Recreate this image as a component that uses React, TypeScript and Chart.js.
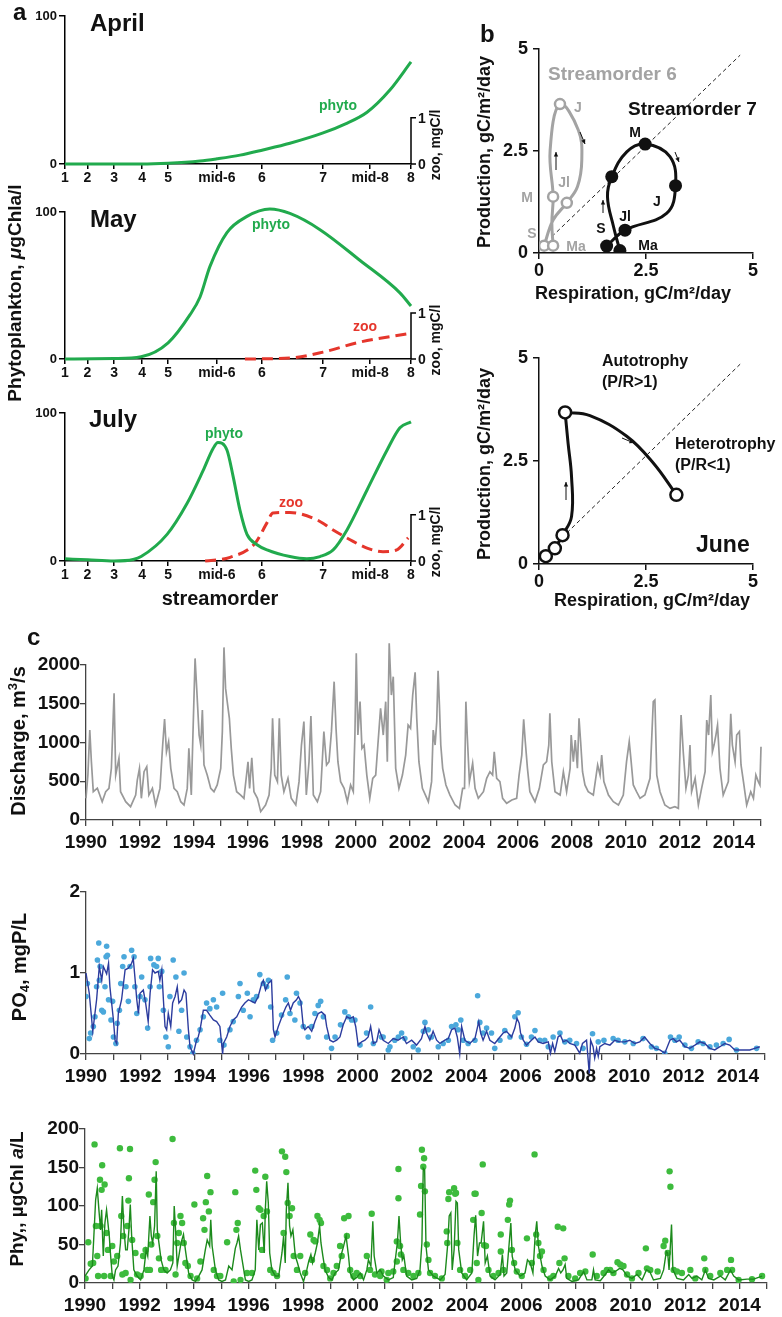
import React, { useEffect, useRef } from 'react';
import { Chart, registerables } from 'chart.js';
Chart.register(...registerables);

const W = 782;
const H = 1317;
const FONT = "'Liberation Sans', Arial, Helvetica, sans-serif";
Chart.defaults.font.family = FONT;

const GREEN = '#21aa4d';
const RED = '#e5362c';
const GRAYB = '#a3a3a3';

// ---------------- Panel a : streamorder profiles ----------------
const streamTickLabels = ['1', '2', '3', '4', '5', 'mid-6', '6', '7', 'mid-8', '8'];
const streamTickPos = [0, 6.5, 14.2, 22.3, 29.8, 43.9, 56.9, 74.6, 88.2, 100];

const aprilPhytoX = [0, 22.0, 29.8, 39.0, 43.9, 50.6, 57.2, 65.0, 74.6, 80.9, 87.3, 93.9, 100];
const aprilPhytoY = [0, 0, 0.5, 2, 3.5, 6, 9.5, 14, 21, 27, 35, 50, 69];

const mayPhytoX = [0, 14.2, 22.0, 29.8, 36.1, 39.0, 41.9, 46.8, 52.6, 59.2, 65.0, 73.7, 85.3, 96.8, 100];
const mayPhytoY = [0, 0.3, 1.5, 11, 30, 42, 63, 86, 97, 102, 99, 88, 67, 45, 36];
const mayZooX = [52.0, 65.0, 74.6, 85.3, 100];
const mayZooY = [0, 0.02, 0.15, 0.37, 0.56];

const julyPhytoX = [0, 6.6, 14.2, 19.7, 22.0, 29.5, 35.3, 39.9, 42.8, 44.2, 46.8, 48.6, 50.6, 52.6, 55.5, 58.4, 65.0, 69.9, 73.7, 77.5, 81.5, 87.3, 93.1, 96.8, 100];
const julyPhytoY = [1.5, 0.8, 0, 1, 3, 18, 39, 61, 76, 80, 75, 57, 34, 18, 11, 7.5, 3, 1.5, 3, 7.5, 21, 48, 75, 90, 94];
const julyZooX = [40.5, 47.7, 54.9, 58.4, 60.1, 65.0, 72.8, 77.5, 82.4, 87.3, 91.9, 95.9, 99.2];
const julyZooY = [0, 0.08, 0.38, 0.83, 1.04, 1.05, 0.89, 0.67, 0.46, 0.28, 0.2, 0.24, 0.5];

// ---------------- Panel b : production vs respiration ----------------
const diagX = [0.3, 4.7];
const diagY = [0.4, 4.85];

const so6PathX = [0.33, 0.30, 0.33, 0.26, 0.49, 0.92, 1.00, 0.90, 0.65, 0.33, 0.12];
const so6PathY = [0.18, 0.73, 1.38, 2.52, 3.65, 3.01, 2.28, 1.63, 1.23, 0.81, 0.18];
const so6MonthsX = [0.49, 0.65, 0.33, 0.12, 0.33];
const so6MonthsY = [3.65, 1.23, 1.38, 0.18, 0.18];

const so7PathX = [1.89, 1.74, 1.60, 1.70, 2.05, 2.48, 3.06, 3.19, 2.98, 2.01, 1.58];
const so7PathY = [0.06, 0.65, 1.38, 1.87, 2.48, 2.67, 2.36, 1.65, 0.97, 0.56, 0.17];
const so7MonthsX = [1.70, 2.48, 3.19, 2.01, 1.58, 1.89];
const so7MonthsY = [1.87, 2.67, 1.65, 0.56, 0.17, 0.06];

const juneRiseX = [0.16, 0.37, 0.55, 0.76, 0.76, 0.68, 0.61];
const juneRiseY = [0.19, 0.38, 0.70, 1.15, 2.12, 2.93, 3.68];
const juneFallX = [0.61, 1.19, 2.05, 2.67, 3.21];
const juneFallY = [3.68, 3.60, 3.10, 2.45, 1.68];
const juneStationsX = [0.16, 0.37, 0.55, 0.61, 3.21];
const juneStationsY = [0.19, 0.38, 0.70, 3.68, 1.68];

// ---------------- Panel c : time series ----------------
const dischargeSeries = [
  [1990.00,280],[1990.07,580],[1990.14,1160],[1990.20,750],[1990.27,365],[1990.42,410],[1990.60,236],[1990.73,365],[1990.85,408],[1990.94,667],
  [1991.04,1634],[1991.10,580],[1991.22,795],[1991.28,365],[1991.47,236],[1991.65,172],[1991.84,322],[1991.90,516],[1991.98,667],[1992.05,280],
  [1992.15,623],[1992.25,688],[1992.33,322],[1992.46,408],[1992.58,193],[1992.74,408],[1992.84,967],[1992.91,1303],[1992.98,881],[1993.06,1010],
  [1993.14,667],[1993.26,408],[1993.38,365],[1993.51,236],[1993.63,193],[1993.75,408],[1993.81,924],[1993.90,322],[1993.96,1096],[1994.04,2085],
  [1994.10,1698],[1994.19,1096],[1994.25,967],[1994.31,1419],[1994.37,710],[1994.49,580],[1994.62,408],[1994.74,365],[1994.86,452],[1994.99,667],
  [1995.05,1140],[1995.11,2227],[1995.17,1698],[1995.23,1527],[1995.31,1312],[1995.38,924],[1995.46,580],[1995.58,365],[1995.73,322],[1995.85,280],
  [1996.00,752],[1996.06,408],[1996.14,804],[1996.22,365],[1996.35,280],[1996.47,108],[1996.65,193],[1996.78,322],[1996.86,667],[1996.91,1312],
  [1996.99,580],[1997.09,495],[1997.16,1312],[1997.23,580],[1997.33,365],[1997.48,538],[1997.60,280],[1997.77,193],[1997.89,495],[1997.98,967],
  [1998.07,1269],[1998.16,322],[1998.26,752],[1998.33,1342],[1998.42,322],[1998.57,236],[1998.69,365],[1998.81,1140],[1998.91,710],[1999.00,752],
  [1999.09,1140],[1999.19,1785],[1999.26,1183],[1999.33,752],[1999.43,495],[1999.56,408],[1999.68,236],[1999.80,452],[1999.90,365],[1999.96,1096],
  [2000.01,2150],[2000.07,1096],[2000.15,1527],[2000.22,924],[2000.30,967],[2000.40,580],[2000.51,280],[2000.62,538],[2000.73,580],[2000.81,967],
  [2000.91,1440],[2001.01,1096],[2001.10,1527],[2001.16,752],[2001.23,2279],[2001.31,1612],[2001.38,1849],[2001.47,667],[2001.59,408],[2001.72,580],
  [2001.84,838],[2001.93,1225],[2002.02,1183],[2002.10,1612],[2002.19,1905],[2002.25,1312],[2002.33,752],[2002.46,408],[2002.68,236],[2002.80,495],
  [2002.86,1161],[2002.93,967],[2002.99,1269],[2003.04,1926],[2003.09,1484],[2003.14,967],[2003.21,667],[2003.33,452],[2003.48,322],[2003.67,193],
  [2003.83,150],[2003.95,408],[2004.02,408],[2004.07,1527],[2004.12,1096],[2004.20,495],[2004.32,731],[2004.41,408],[2004.53,280],[2004.72,365],
  [2004.84,538],[2004.96,623],[2005.06,580],[2005.12,881],[2005.21,538],[2005.33,495],[2005.43,280],[2005.58,215],[2005.77,258],[2005.95,280],
  [2006.04,580],[2006.14,838],[2006.21,1299],[2006.27,1010],[2006.35,667],[2006.44,365],[2006.63,236],[2006.79,408],[2006.94,710],[2007.06,752],
  [2007.14,967],[2007.18,1376],[2007.25,752],[2007.37,365],[2007.56,322],[2007.68,623],[2007.80,365],[2007.93,667],[2007.97,1096],[2008.05,752],
  [2008.12,1032],[2008.20,667],[2008.26,1312],[2008.32,1010],[2008.39,623],[2008.48,452],[2008.60,365],[2008.79,322],[2008.95,710],[2009.04,580],
  [2009.10,838],[2009.18,495],[2009.35,322],[2009.53,236],[2009.72,193],[2009.90,322],[2010.02,752],[2010.12,1010],[2010.18,795],[2010.27,452],
  [2010.39,365],[2010.52,280],[2010.70,322],[2010.89,538],[2011.01,1527],[2011.07,1548],[2011.14,580],[2011.26,365],[2011.44,193],[2011.63,150],
  [2011.81,172],[2011.94,150],[2011.98,667],[2012.04,1355],[2012.12,881],[2012.22,408],[2012.31,580],[2012.37,967],[2012.43,365],[2012.56,538],
  [2012.68,193],[2012.80,408],[2012.93,623],[2012.99,1290],[2013.06,1096],[2013.14,1612],[2013.20,881],[2013.26,967],[2013.33,1096],[2013.39,1225],
  [2013.48,667],[2013.60,322],[2013.79,495],[2013.88,1372],[2013.94,967],[2014.04,752],[2014.10,1096],[2014.20,1140],[2014.26,710],[2014.35,495],
  [2014.47,193],[2014.62,365],[2014.72,280],[2014.81,580],[2014.90,495],[2014.96,452],[2015.00,946],
];

const po4Line = [
  [1990.00,1.0],[1990.12,0.75],[1990.25,0.28],[1990.39,0.67],[1990.49,1.08],[1990.58,0.91],[1990.64,1.08],[1990.76,0.99],[1990.83,1.12],[1990.88,0.83],
  [1991.01,0.42],[1991.07,0.17],[1991.13,0.13],[1991.19,0.5],[1991.31,0.67],[1991.44,1.04],[1991.56,1.06],[1991.68,1.12],[1991.74,1.18],[1991.80,0.95],
  [1991.87,0.67],[1991.93,0.5],[1991.99,0.75],[1992.11,0.79],[1992.20,0.62],[1992.29,0.4],[1992.36,0.75],[1992.45,1.04],[1992.54,1.0],[1992.66,1.02],
  [1992.72,0.91],[1992.79,1.04],[1992.85,0.67],[1992.91,0.34],[1992.97,0.30],[1993.03,0.5],[1993.12,0.34],[1993.19,0.63],[1993.28,0.71],[1993.36,0.83],
  [1993.42,0.63],[1993.52,0.67],[1993.61,0.79],[1993.68,0.75],[1993.77,0.30],[1993.83,0.09],[1993.95,0.0],[1994.07,0.17],[1994.13,0.21],[1994.20,0.30],
  [1994.32,0.54],[1994.44,0.54],[1994.56,0.48],[1994.69,0.42],[1994.81,0.40],[1994.93,0.34],[1995.03,0.0],[1995.06,0.13],[1995.18,0.21],[1995.30,0.34],
  [1995.42,0.42],[1995.55,0.46],[1995.61,0.50],[1995.73,0.58],[1995.85,0.63],[1995.98,0.67],[1996.10,0.65],[1996.22,0.63],[1996.34,0.71],[1996.47,0.87],
  [1996.53,0.91],[1996.61,0.79],[1996.71,0.87],[1996.83,0.91],[1996.90,0.30],[1996.96,0.21],[1997.08,0.34],[1997.17,0.42],[1997.26,0.50],[1997.36,0.58],
  [1997.45,0.63],[1997.53,0.54],[1997.63,0.63],[1997.75,0.67],[1997.82,0.71],[1997.91,0.65],[1998.00,0.34],[1998.06,0.30],[1998.18,0.34],[1998.31,0.28],
  [1998.43,0.40],[1998.55,0.50],[1998.67,0.52],[1998.80,0.48],[1998.86,0.34],[1998.98,0.17],[1999.10,0.15],[1999.23,0.17],[1999.35,0.21],[1999.47,0.36],
  [1999.60,0.46],[1999.72,0.44],[1999.84,0.46],[1999.93,0.34],[2000.02,0.11],[2000.15,0.15],[2000.27,0.17],[2000.39,0.21],[2000.48,0.34],[2000.58,0.13],
  [2000.70,0.15],[2000.79,0.30],[2000.94,0.17],[2001.13,0.13],[2001.31,0.19],[2001.49,0.17],[2001.68,0.21],[2001.80,0.13],[2001.99,0.17],[2002.17,0.11],
  [2002.35,0.19],[2002.48,0.34],[2002.54,0.26],[2002.66,0.17],[2002.78,0.28],[2002.91,0.17],[2003.03,0.13],[2003.21,0.17],[2003.34,0.19],[2003.46,0.30],
  [2003.58,0.32],[2003.67,0.21],[2003.76,0.0],[2003.83,0.34],[2003.95,0.17],[2004.13,0.13],[2004.32,0.19],[2004.46,0.40],[2004.53,0.26],[2004.62,0.17],
  [2004.75,0.28],[2004.87,0.17],[2005.05,0.13],[2005.24,0.21],[2005.36,0.26],[2005.48,0.28],[2005.67,0.21],[2005.79,0.32],[2005.87,0.44],[2005.95,0.38],
  [2006.00,0.26],[2006.10,0.17],[2006.22,0.11],[2006.40,0.17],[2006.53,0.21],[2006.65,0.15],[2006.83,0.13],[2007.02,0.15],[2007.10,0.01],[2007.18,0.13],
  [2007.26,0.03],[2007.38,0.21],[2007.47,0.23],[2007.57,0.15],[2007.69,0.17],[2007.81,0.13],[2008.00,0.11],[2008.18,0.01],[2008.28,0.13],[2008.43,0.17],
  [2008.53,-0.24],[2008.58,0.17],[2008.67,0.09],[2008.73,-0.05],[2008.80,0.07],[2008.86,-0.03],[2008.92,0.09],[2009.10,0.13],[2009.29,0.11],[2009.47,0.17],
  [2009.65,0.15],[2009.84,0.15],[2010.02,0.17],[2010.21,0.13],[2010.39,0.15],[2010.57,0.21],[2010.76,0.13],[2010.94,0.07],[2011.13,0.05],[2011.31,0.01],
  [2011.50,0.17],[2011.62,0.19],[2011.74,0.15],[2011.86,0.17],[2012.05,0.09],[2012.23,0.07],[2012.42,0.11],[2012.60,0.15],[2012.78,0.13],[2012.97,0.07],
  [2013.15,0.05],[2013.34,0.09],[2013.52,0.13],[2013.70,0.11],[2013.89,0.05],[2014.07,0.05],[2014.44,0.05],[2014.62,0.07],[2014.81,0.09],
];

const po4Samples = [
  [1990.00,0.71],[1990.05,0.87],[1990.12,0.19],[1990.17,0.26],[1990.27,0.34],[1990.33,0.46],[1990.39,0.83],[1990.42,1.16],[1990.47,1.37],[1990.49,0.91],
  [1990.52,1.08],[1990.58,0.54],[1990.64,0.52],[1990.70,0.83],[1990.74,1.20],[1990.76,1.33],[1990.79,1.22],[1990.83,0.67],[1990.92,0.42],[1990.98,0.65],
  [1991.01,0.21],[1991.10,0.13],[1991.15,0.38],[1991.23,0.54],[1991.28,0.87],[1991.35,1.08],[1991.40,1.20],[1991.47,0.83],[1991.56,0.65],[1991.62,1.08],
  [1991.68,1.28],[1991.77,1.20],[1991.80,0.83],[1991.87,0.50],[1991.99,0.71],[1992.05,0.95],[1992.17,0.67],[1992.27,0.32],[1992.36,0.83],[1992.38,1.18],
  [1992.50,1.10],[1992.60,1.08],[1992.66,1.18],[1992.70,0.83],[1992.79,1.02],[1992.85,0.54],[1992.94,0.21],[1993.03,0.09],[1993.09,0.71],[1993.21,1.16],
  [1993.31,0.95],[1993.42,0.28],[1993.52,0.54],[1993.61,1.00],[1993.71,0.21],[1993.83,0.09],[1993.93,0.01],[1994.07,0.17],[1994.20,0.30],[1994.32,0.46],
  [1994.44,0.63],[1994.56,0.56],[1994.69,0.67],[1994.81,0.58],[1994.93,0.17],[1995.03,0.75],[1995.08,0.11],[1995.30,0.30],[1995.42,0.40],[1995.61,0.71],
  [1995.67,0.87],[1995.79,0.54],[1995.94,0.75],[1996.04,0.46],[1996.16,0.67],[1996.28,0.71],[1996.40,0.98],[1996.53,0.87],[1996.65,0.83],[1996.72,0.91],
  [1996.80,0.58],[1996.87,0.17],[1997.02,0.26],[1997.20,0.48],[1997.35,0.67],[1997.41,0.95],[1997.51,0.50],[1997.69,0.42],[1997.75,0.75],[1997.88,0.63],
  [1998.00,0.34],[1998.18,0.21],[1998.31,0.34],[1998.43,0.50],[1998.55,0.60],[1998.64,0.65],[1998.74,0.46],[1998.86,0.21],[1999.04,0.07],[1999.17,0.21],
  [1999.37,0.36],[1999.53,0.52],[1999.66,0.46],[1999.78,0.42],[1999.90,0.42],[2000.09,0.11],[2000.33,0.26],[2000.48,0.58],[2000.58,0.13],[2000.88,0.21],
  [2000.94,0.21],[2001.13,0.05],[2001.19,0.09],[2001.37,0.17],[2001.50,0.21],[2001.62,0.26],[2001.74,0.19],[2002.05,0.09],[2002.23,0.05],[2002.42,0.28],
  [2002.48,0.39],[2002.60,0.30],[2002.72,0.21],[2002.97,0.09],[2003.15,0.13],[2003.34,0.17],[2003.46,0.34],[2003.62,0.36],[2003.70,0.30],[2003.80,0.42],
  [2003.89,0.17],[2004.07,0.13],[2004.32,0.17],[2004.42,0.72],[2004.50,0.39],[2004.62,0.26],[2004.75,0.32],[2004.93,0.26],[2005.05,0.07],[2005.24,0.17],
  [2005.42,0.29],[2005.61,0.21],[2005.79,0.46],[2005.91,0.51],[2006.03,0.21],[2006.22,0.12],[2006.40,0.21],[2006.53,0.29],[2006.71,0.17],[2006.89,0.17],
  [2007.02,0.09],[2007.20,0.21],[2007.45,0.26],[2007.63,0.15],[2007.81,0.17],[2008.06,0.13],[2008.30,0.07],[2008.65,0.25],[2008.86,0.15],[2009.07,0.17],
  [2009.41,0.19],[2009.59,0.17],[2009.84,0.15],[2010.15,0.13],[2010.51,0.19],[2010.82,0.09],[2011.00,0.07],[2011.31,0.01],[2011.52,0.21],[2011.68,0.17],
  [2011.84,0.21],[2012.05,0.11],[2012.29,0.07],[2012.54,0.15],[2012.72,0.13],[2012.97,0.09],[2013.21,0.11],[2013.46,0.13],[2013.68,0.18],[2013.95,0.05],
  [2014.69,0.07],
];

const phyLine = [
  [1990.00,9],[1990.15,17],[1990.27,22],[1990.33,65],[1990.39,108],[1990.45,123],[1990.51,95],[1990.57,69],[1990.61,95],[1990.67,35],
  [1990.73,78],[1990.79,95],[1990.84,78],[1990.89,61],[1990.94,35],[1991.00,9],[1991.06,4],[1991.12,17],[1991.21,22],[1991.30,52],
  [1991.37,113],[1991.43,69],[1991.49,43],[1991.55,43],[1991.61,69],[1991.66,102],[1991.71,61],[1991.79,17],[1991.91,9],[1992.04,4],
  [1992.16,17],[1992.24,43],[1992.30,35],[1992.38,87],[1992.43,61],[1992.48,52],[1992.55,74],[1992.61,145],[1992.65,69],[1992.71,52],
  [1992.79,30],[1992.89,17],[1993.01,13],[1993.13,17],[1993.22,26],[1993.27,100],[1993.32,69],[1993.38,22],[1993.44,35],[1993.52,52],
  [1993.61,63],[1993.68,43],[1993.80,13],[1993.93,4],[1994.05,2],[1994.17,9],[1994.29,17],[1994.41,43],[1994.48,56],[1994.57,48],
  [1994.61,82],[1994.66,48],[1994.78,17],[1994.90,4],[1995.02,2],[1995.15,4],[1995.27,22],[1995.39,17],[1995.51,45],[1995.57,52],
  [1995.63,61],[1995.70,43],[1995.76,30],[1995.88,4],[1996.00,2],[1996.12,4],[1996.24,17],[1996.30,82],[1996.37,43],[1996.43,76],
  [1996.50,78],[1996.57,39],[1996.61,95],[1996.66,132],[1996.72,104],[1996.77,39],[1996.85,17],[1996.98,9],[1997.10,9],[1997.22,39],
  [1997.28,61],[1997.34,26],[1997.38,95],[1997.44,130],[1997.50,74],[1997.55,61],[1997.62,69],[1997.71,35],[1997.79,26],[1997.89,13],
  [1998.01,2],[1998.13,17],[1998.20,28],[1998.28,37],[1998.34,26],[1998.44,39],[1998.52,52],[1998.60,74],[1998.65,52],[1998.72,35],
  [1998.80,17],[1998.93,7],[1999.05,4],[1999.17,13],[1999.29,17],[1999.38,35],[1999.48,48],[1999.57,61],[1999.66,35],[1999.72,13],
  [1999.84,4],[1999.96,7],[2000.09,13],[2000.21,4],[2000.33,17],[2000.39,30],[2000.48,22],[2000.55,80],[2000.60,35],[2000.70,13],
  [2000.82,17],[2000.94,9],[2001.12,4],[2001.30,7],[2001.36,26],[2001.45,52],[2001.51,87],[2001.57,52],[2001.63,30],[2001.69,35],
  [2001.79,9],[2001.98,4],[2002.16,6],[2002.28,17],[2002.35,52],[2002.40,149],[2002.45,147],[2002.50,48],[2002.59,17],[2002.77,9],
  [2003.02,4],[2003.20,11],[2003.30,52],[2003.35,87],[2003.41,91],[2003.46,17],[2003.53,43],[2003.60,106],[2003.65,104],[2003.70,43],
  [2003.81,13],[2003.99,4],[2004.18,13],[2004.26,61],[2004.32,88],[2004.39,35],[2004.46,52],[2004.52,52],[2004.61,80],[2004.67,26],
  [2004.75,35],[2004.85,9],[2005.03,4],[2005.22,11],[2005.30,37],[2005.36,9],[2005.46,13],[2005.55,52],[2005.61,78],[2005.66,35],
  [2005.77,17],[2005.95,9],[2006.13,13],[2006.22,30],[2006.32,26],[2006.42,13],[2006.50,61],[2006.56,80],[2006.62,48],[2006.75,22],
  [2006.87,9],[2007.05,4],[2007.24,9],[2007.36,19],[2007.44,13],[2007.52,17],[2007.60,24],[2007.66,6],[2007.85,2],[2008.09,4],
  [2008.28,15],[2008.40,4],[2008.58,4],[2008.64,17],[2008.70,4],[2008.89,3],[2009.07,11],[2009.19,17],[2009.32,13],[2009.44,15],
  [2009.60,19],[2009.72,17],[2009.87,9],[2010.05,6],[2010.23,11],[2010.42,4],[2010.58,17],[2010.70,15],[2010.84,4],[2011.09,6],
  [2011.21,17],[2011.31,41],[2011.36,39],[2011.41,17],[2011.46,50],[2011.50,76],[2011.55,17],[2011.70,6],[2011.94,4],[2012.13,11],
  [2012.25,6],[2012.43,9],[2012.61,4],[2012.74,17],[2012.86,6],[2013.05,4],[2013.29,9],[2013.47,4],[2013.66,17],[2013.78,9],
  [2013.96,4],[2014.27,5],[2014.51,5],[2014.82,9],
];

const phySamples = [
  [1990.02,6],[1990.12,53],[1990.21,25],[1990.30,26],[1990.35,180],[1990.40,74],[1990.45,35],[1990.48,9],[1990.55,134],[1990.57,74],
  [1990.61,121],[1990.63,153],[1990.70,9],[1990.72,128],[1990.79,65],[1990.84,43],[1990.94,9],[1991.00,48],[1991.06,28],[1991.18,35],
  [1991.28,175],[1991.33,87],[1991.37,11],[1991.40,61],[1991.49,13],[1991.55,74],[1991.59,107],[1991.61,136],[1991.65,174],[1991.67,4],
  [1991.73,56],[1991.85,39],[1991.91,11],[1992.04,9],[1992.13,35],[1992.22,43],[1992.28,17],[1992.34,115],[1992.38,17],[1992.43,50],
  [1992.50,105],[1992.55,134],[1992.59,157],[1992.65,61],[1992.71,32],[1992.79,17],[1992.95,17],[1993.13,32],[1993.21,187],[1993.26,78],
  [1993.32,11],[1993.38,52],[1993.44,65],[1993.50,87],[1993.56,78],[1993.62,52],[1993.68,26],[1993.77,22],[1993.87,9],[1994.01,102],
  [1994.11,6],[1994.23,28],[1994.33,84],[1994.38,69],[1994.43,105],[1994.48,139],[1994.54,93],[1994.60,118],[1994.72,17],[1994.84,9],
  [1994.96,9],[1995.21,53],[1995.45,2],[1995.51,118],[1995.55,69],[1995.60,78],[1995.70,4],[1995.94,13],[1996.12,13],[1996.24,146],
  [1996.28,121],[1996.37,97],[1996.43,95],[1996.49,43],[1996.55,87],[1996.61,138],[1996.67,93],[1996.79,17],[1996.91,13],[1997.04,9],
  [1997.22,171],[1997.28,65],[1997.34,164],[1997.38,144],[1997.43,104],[1997.50,87],[1997.59,97],[1997.65,35],[1997.77,17],[1997.89,35],
  [1998.07,13],[1998.26,63],[1998.32,30],[1998.38,56],[1998.44,54],[1998.52,87],[1998.60,82],[1998.65,78],[1998.74,22],[1998.87,17],
  [1998.99,6],[1999.11,13],[1999.23,22],[1999.35,48],[1999.41,35],[1999.50,84],[1999.60,61],[1999.66,87],[1999.72,17],[1999.84,9],
  [1999.96,13],[2000.09,9],[2000.33,35],[2000.45,17],[2000.51,90],[2000.63,11],[2000.82,9],[2000.87,15],[2001.06,4],[2001.12,13],
  [2001.30,15],[2001.43,28],[2001.43,54],[2001.49,110],[2001.49,148],[2001.55,48],[2001.58,37],[2001.67,17],[2001.85,13],[2002.04,9],
  [2002.22,13],[2002.28,89],[2002.32,126],[2002.35,173],[2002.40,151],[2002.43,162],[2002.46,119],[2002.53,50],[2002.59,30],[2002.65,13],
  [2002.83,9],[2003.08,6],[2003.26,67],[2003.28,52],[2003.32,109],[2003.35,118],[2003.53,123],[2003.57,116],[2003.60,117],[2003.65,52],
  [2003.75,17],[2003.93,9],[2004.12,17],[2004.23,82],[2004.28,116],[2004.32,116],[2004.36,26],[2004.42,4],[2004.54,91],[2004.58,154],
  [2004.63,49],[2004.70,48],[2004.79,17],[2004.97,9],[2005.16,13],[2005.24,63],[2005.24,41],[2005.34,17],[2005.50,82],[2005.55,102],
  [2005.58,107],[2005.65,43],[2005.73,26],[2005.83,15],[2006.01,9],[2006.20,58],[2006.38,26],[2006.48,167],[2006.54,63],[2006.62,52],
  [2006.68,35],[2006.75,41],[2006.81,17],[2007.05,6],[2007.17,9],[2007.33,73],[2007.39,26],[2007.53,71],[2007.58,32],[2007.72,9],
  [2007.97,6],[2008.15,13],[2008.34,15],[2008.61,37],[2008.76,9],[2009.01,13],[2009.13,17],[2009.25,17],[2009.37,13],[2009.52,27],
  [2009.62,24],[2009.74,22],[2009.87,11],[2010.05,6],[2010.29,13],[2010.56,45],[2010.60,19],[2010.72,17],[2010.99,15],[2011.21,48],
  [2011.27,55],[2011.36,39],[2011.43,145],[2011.46,125],[2011.58,17],[2011.70,15],[2011.88,13],[2012.19,17],[2012.37,6],[2012.70,32],
  [2012.74,17],[2012.92,9],[2013.29,13],[2013.54,17],[2013.68,30],[2013.72,17],[2013.96,4],[2014.45,5],[2014.82,9],
];

const yearTicks = Array.from({ length: 26 }, (_, i) => 1990 + i);

// ---------------- helpers ----------------
type Area = { l: number; t: number; r: number; b: number };
const pts = (xs: number[], ys: number[]) => xs.map((x, i) => ({ x, y: ys[i] }));
const tup = (arr: number[][]) => arr.map(([x, y]) => ({ x, y }));

function fontStr(size: number, weight = 'bold', style = 'normal') {
  return `${style} ${weight} ${size}px ${FONT}`;
}
function text(ctx: any, s: string, x: number, y: number, size: number, o: any = {}) {
  ctx.save();
  ctx.font = fontStr(size, o.weight || 'bold', o.style || 'normal');
  ctx.fillStyle = o.color || '#111';
  ctx.textAlign = o.align || 'left';
  ctx.textBaseline = o.baseline || 'alphabetic';
  ctx.fillText(s, x, y);
  ctx.restore();
}
// rotated -90deg rich text centred on (cx, cy)
function vrich(ctx: any, segs: any[], cx: number, cy: number, color = '#111') {
  ctx.save();
  ctx.translate(cx, cy);
  ctx.rotate(-Math.PI / 2);
  let total = 0;
  const widths = segs.map((s) => {
    ctx.font = fontStr(s.size, 'bold', s.italic ? 'italic' : 'normal');
    const w = ctx.measureText(s.t).width;
    total += w;
    return w;
  });
  let x = -total / 2;
  ctx.fillStyle = color;
  ctx.textAlign = 'left';
  ctx.textBaseline = 'middle';
  segs.forEach((s, i) => {
    ctx.font = fontStr(s.size, 'bold', s.italic ? 'italic' : 'normal');
    ctx.fillText(s.t, x, s.dy || 0);
    x += widths[i];
  });
  ctx.restore();
}
function arrow(ctx: any, x1: number, y1: number, x2: number, y2: number) {
  ctx.save();
  ctx.strokeStyle = '#111';
  ctx.fillStyle = '#111';
  ctx.lineWidth = 1;
  ctx.beginPath();
  ctx.moveTo(x1, y1);
  ctx.lineTo(x2, y2);
  ctx.stroke();
  const a = Math.atan2(y2 - y1, x2 - x1);
  const L = 5;
  ctx.beginPath();
  ctx.moveTo(x2, y2);
  ctx.lineTo(x2 - L * Math.cos(a - 0.45), y2 - L * Math.sin(a - 0.45));
  ctx.lineTo(x2 - L * Math.cos(a + 0.45), y2 - L * Math.sin(a + 0.45));
  ctx.closePath();
  ctx.fill();
  ctx.restore();
}

const common = {
  responsive: false,
  animation: false,
  devicePixelRatio: 1,
  events: [],
  plugins: { legend: { display: false }, tooltip: { enabled: false } },
};

function layoutFor(a: Area, xH: number) {
  return { padding: { left: 0, top: a.t, right: W - a.r, bottom: H - a.b - xH } };
}
function axisLook(color: string, width: number, tickLength: number) {
  return {
    grid: { display: true, drawOnChartArea: false, drawTicks: true, tickLength, color, lineWidth: width },
    border: { display: true, color, width },
  };
}

// ---------------- Panel a config ----------------
function zooAxis(chart: any) {
  const ctx = chart.ctx;
  const y2 = chart.scales.y2;
  const x = chart.chartArea.right;
  const p0 = y2.getPixelForValue(0);
  const p1 = y2.getPixelForValue(1);
  ctx.save();
  ctx.strokeStyle = '#000';
  ctx.lineWidth = 1.5;
  ctx.beginPath();
  ctx.moveTo(x, p0);
  ctx.lineTo(x, p1);
  ctx.lineTo(x + 5, p1);
  ctx.moveTo(x, p0);
  ctx.lineTo(x + 5, p0);
  ctx.stroke();
  ctx.restore();
  text(ctx, '1', x + 7, p1 + 1, 14, { baseline: 'middle' });
  text(ctx, '0', x + 7, p0 + 1, 14, { baseline: 'middle' });
  vrich(ctx, [{ t: 'zoo, mgC/l', size: 14 }], 436, (p0 + p1) / 2 + 4);
}

function panelA(area: Area, phyto: any[], zoo: any[] | null, draw: (ctx: any, chart: any) => void) {
  const datasets: any[] = [
    { data: phyto, showLine: true, borderColor: GREEN, borderWidth: 3, pointRadius: 0, cubicInterpolationMode: 'monotone', clip: false, yAxisID: 'y' },
  ];
  if (zoo) {
    datasets.push({ data: zoo, showLine: true, borderColor: RED, borderWidth: 3, borderDash: [11, 6], pointRadius: 0, cubicInterpolationMode: 'monotone', clip: false, yAxisID: 'y2' });
  }
  const xH = 40;
  return {
    type: 'scatter',
    data: { datasets },
    options: {
      ...common,
      layout: layoutFor(area, xH),
      scales: {
        x: {
          type: 'linear', min: 0, max: 100,
          afterBuildTicks: (s: any) => { s.ticks = streamTickPos.map((v) => ({ value: v })); },
          afterFit: (s: any) => { s.height = xH; },
          ticks: { autoSkip: false, maxRotation: 0, callback: (_v: any, i: number) => streamTickLabels[i], font: { size: 14, weight: 'bold' }, color: '#111', padding: 1 },
          ...axisLook('#000', 1.5, 5),
        },
        y: {
          type: 'linear', min: 0, max: 100,
          afterBuildTicks: (s: any) => { s.ticks = [{ value: 0 }, { value: 100 }]; },
          afterFit: (s: any) => { s.width = area.l; },
          ticks: { font: { size: 13, weight: 'bold' }, color: '#111', padding: 2, callback: (v: any) => String(v) },
          ...axisLook('#000', 1.5, 6),
        },
        y2: { type: 'linear', display: false, position: 'right', min: 0, max: 3.2, afterFit: (s: any) => { s.width = 0; } },
      },
    },
    plugins: [{ id: 'annA', afterDraw: (chart: any) => { zooAxis(chart); draw(chart.ctx, chart); } }],
  };
}

// ---------------- Panel b config ----------------
function panelB(area: Area, datasets: any[], draw: (ctx: any) => void) {
  const xH = 40;
  const tickFont = { size: 18, weight: 'bold' };
  return {
    type: 'scatter',
    data: { datasets },
    options: {
      ...common,
      layout: layoutFor(area, xH),
      scales: {
        x: {
          type: 'linear', min: 0, max: 5,
          afterBuildTicks: (s: any) => { s.ticks = [0, 2.5, 5].map((v) => ({ value: v })); },
          afterFit: (s: any) => { s.height = xH; },
          ticks: { font: tickFont, color: '#111', padding: 1, callback: (v: any) => String(v) },
          ...axisLook('#111', 1.5, 6),
        },
        y: {
          type: 'linear', min: 0, max: 5,
          afterBuildTicks: (s: any) => { s.ticks = [0, 2.5, 5].map((v) => ({ value: v })); },
          afterFit: (s: any) => { s.width = area.l; },
          ticks: { font: tickFont, color: '#111', padding: 5, callback: (v: any) => String(v) },
          ...axisLook('#111', 1.5, 6),
        },
      },
    },
    plugins: [{ id: 'annB', afterDraw: (chart: any) => draw(chart.ctx) }],
  };
}

const diagSet = { data: pts(diagX, diagY), showLine: true, borderColor: '#222', borderWidth: 1, borderDash: [4, 3], pointRadius: 0 };

// ---------------- Panel c config ----------------
function panelC(area: Area, yMax: number, yStep: number, datasets: any[], draw: (ctx: any) => void) {
  const xH = 40;
  const f = { size: 19, weight: 'bold' };
  return {
    type: 'scatter',
    data: { datasets },
    options: {
      ...common,
      layout: layoutFor(area, xH),
      scales: {
        x: {
          type: 'linear', min: 1990, max: 2015,
          afterBuildTicks: (s: any) => { s.ticks = yearTicks.map((v) => ({ value: v })); },
          afterFit: (s: any) => { s.height = xH; },
          ticks: { autoSkip: false, maxRotation: 0, font: f, color: '#111', padding: 5, callback: (v: any) => (v % 2 === 0 ? String(v) : '') },
          ...axisLook('#444', 1.3, 6),
        },
        y: {
          type: 'linear', min: 0, max: yMax,
          ticks: { stepSize: yStep, font: f, color: '#111', padding: 0, callback: (v: any) => String(v) },
          afterFit: (s: any) => { s.width = area.l; },
          ...axisLook('#444', 1.3, 6),
        },
      },
    },
    plugins: [{ id: 'annC', afterDraw: (chart: any) => draw(chart.ctx) }],
  };
}

// ---------------- chart list ----------------
const A_APR: Area = { l: 65, t: 16, r: 411, b: 164 };
const A_MAY: Area = { l: 65, t: 212, r: 411, b: 359 };
const A_JUL: Area = { l: 65, t: 413, r: 411, b: 561 };
const B_TOP: Area = { l: 539, t: 49, r: 753, b: 253 };
const B_BOT: Area = { l: 539, t: 358, r: 753, b: 564 };
const C_Q: Area = { l: 86, t: 665, r: 761, b: 820 };
const C_P: Area = { l: 86, t: 892, r: 765, b: 1054 };
const C_C: Area = { l: 85, t: 1129, r: 767, b: 1283 };

const makers: (() => any)[] = [
  () => panelA(A_APR, pts(aprilPhytoX, aprilPhytoY), null, (ctx) => {
    text(ctx, 'a', 13, 20, 24);
    text(ctx, 'April', 90, 31, 24);
    text(ctx, 'phyto', 338, 110, 14, { color: GREEN, align: 'center' });
    vrich(ctx, [{ t: 'Phytoplankton, ', size: 19 }, { t: 'μ', size: 19, italic: true }, { t: 'gChla/l', size: 19 }], 16, 293);
  }),
  () => panelA(A_MAY, pts(mayPhytoX, mayPhytoY), pts(mayZooX, mayZooY), (ctx) => {
    text(ctx, 'May', 90, 227, 24);
    text(ctx, 'phyto', 271, 229, 14, { color: GREEN, align: 'center' });
    text(ctx, 'zoo', 365, 331, 14, { color: RED, align: 'center' });
  }),
  () => panelA(A_JUL, pts(julyPhytoX, julyPhytoY), pts(julyZooX, julyZooY), (ctx) => {
    text(ctx, 'July', 89, 427, 24);
    text(ctx, 'phyto', 224, 438, 14, { color: GREEN, align: 'center' });
    text(ctx, 'zoo', 291, 507, 14, { color: RED, align: 'center' });
    text(ctx, 'streamorder', 220, 605, 20, { align: 'center' });
  }),
  () => panelB(B_TOP, [
    { data: pts(so7MonthsX, so7MonthsY), pointRadius: 6.5, pointBackgroundColor: '#111', pointBorderColor: '#111', pointBorderWidth: 0 },
    { data: pts(so6MonthsX, so6MonthsY), pointRadius: 5, pointBackgroundColor: '#fff', pointBorderColor: GRAYB, pointBorderWidth: 2.5 },
    { data: pts(so7PathX, so7PathY), showLine: true, tension: 0.4, borderColor: '#111', borderWidth: 3, pointRadius: 0 },
    { data: pts(so6PathX, so6PathY), showLine: true, tension: 0.4, borderColor: GRAYB, borderWidth: 3, pointRadius: 0 },
    diagSet,
  ], (ctx) => {
    text(ctx, 'b', 480, 42, 24);
    text(ctx, 'Streamorder 6', 548, 80, 19, { color: GRAYB });
    text(ctx, 'Streamorder 7', 628, 115, 19);
    const g = { color: GRAYB, align: 'center', baseline: 'middle' };
    text(ctx, 'J', 578, 108, 14, g);
    text(ctx, 'Jl', 564, 183, 14, g);
    text(ctx, 'M', 527, 198, 14, g);
    text(ctx, 'S', 532, 234, 14, g);
    text(ctx, 'Ma', 576, 247, 14, g);
    const k = { align: 'center', baseline: 'middle' };
    text(ctx, 'M', 635, 133, 14, k);
    text(ctx, 'J', 657, 202, 14, k);
    text(ctx, 'Jl', 625, 217, 14, k);
    text(ctx, 'S', 601, 229, 14, k);
    text(ctx, 'Ma', 648, 246, 14, k);
    arrow(ctx, 556, 170, 556, 152);
    arrow(ctx, 580, 132, 585, 144);
    arrow(ctx, 603, 213, 603, 200);
    arrow(ctx, 675, 152, 679, 162);
    vrich(ctx, [{ t: 'Production, gC/m²/day', size: 18 }], 485, 152);
    text(ctx, 'Respiration, gC/m²/day', 633, 294, 18, { align: 'center', baseline: 'middle' });
  }),
  () => panelB(B_BOT, [
    { data: pts(juneStationsX, juneStationsY), pointRadius: 6, pointBackgroundColor: '#fff', pointBorderColor: '#111', pointBorderWidth: 2.5 },
    { data: pts(juneRiseX, juneRiseY), showLine: true, tension: 0.4, borderColor: '#111', borderWidth: 3, pointRadius: 0 },
    { data: pts(juneFallX, juneFallY), showLine: true, tension: 0.4, borderColor: '#111', borderWidth: 3, pointRadius: 0 },
    diagSet,
  ], (ctx) => {
    text(ctx, 'Autotrophy', 602, 362, 16, { baseline: 'middle' });
    text(ctx, '(P/R>1)', 602, 383, 16, { baseline: 'middle' });
    text(ctx, 'Heterotrophy', 675, 445, 16, { baseline: 'middle' });
    text(ctx, '(P/R<1)', 675, 466, 16, { baseline: 'middle' });
    text(ctx, 'June', 696, 552, 23);
    arrow(ctx, 566, 500, 566, 482);
    arrow(ctx, 622, 438, 634, 443);
    vrich(ctx, [{ t: 'Production, gC/m²/day', size: 18 }], 485, 464);
    text(ctx, 'Respiration, gC/m²/day', 652, 601, 18, { align: 'center', baseline: 'middle' });
  }),
  () => panelC(C_Q, 2000, 500, [
    { data: tup(dischargeSeries), showLine: true, borderColor: '#999', borderWidth: 1.7, pointRadius: 0, clip: false },
  ], (ctx) => {
    text(ctx, 'c', 27, 645, 24);
    vrich(ctx, [{ t: 'Discharge, m', size: 20 }, { t: '3', size: 13, dy: -6 }, { t: '/s', size: 20 }], 19, 741);
  }),
  () => panelC(C_P, 2, 1, [
    { data: tup(po4Line), showLine: true, borderColor: '#2c3c9e', borderWidth: 1.4, pointRadius: 0, clip: false },
    { data: tup(po4Samples), pointRadius: 2.8, pointBackgroundColor: '#4ba8db', pointBorderWidth: 0 },
  ], (ctx) => {
    vrich(ctx, [{ t: 'PO', size: 20 }, { t: '4', size: 13, dy: 5 }, { t: ', mgP/L', size: 20 }], 20, 967);
  }),
  () => panelC(C_C, 200, 50, [
    { data: tup(phyLine), showLine: true, borderColor: '#1c8a1c', borderWidth: 1.4, pointRadius: 0, clip: false },
    { data: tup(phySamples), pointRadius: 3.2, pointBackgroundColor: '#3dbb3d', pointBorderWidth: 0 },
  ], (ctx) => {
    vrich(ctx, [{ t: 'Phy,, µgChl ', size: 19 }, { t: 'a', size: 19, italic: true }, { t: '/L', size: 19 }], 18, 1199);
  }),
];

function Layer({ make }: { make: () => any }) {
  const ref = useRef<HTMLCanvasElement>(null);
  useEffect(() => {
    const chart = new Chart(ref.current as any, make());
    return () => chart.destroy();
  }, []);
  return (
    <canvas
      ref={ref}
      width={W}
      height={H}
      style={{ position: 'absolute', left: 0, top: 0, width: W, height: H }}
    />
  );
}

export default function App() {
  return (
    <div style={{ position: 'absolute', left: 0, top: 0, width: W, height: H, background: '#fff', overflow: 'hidden' }}>
      {makers.map((m, i) => (
        <Layer key={i} make={m} />
      ))}
    </div>
  );
}
